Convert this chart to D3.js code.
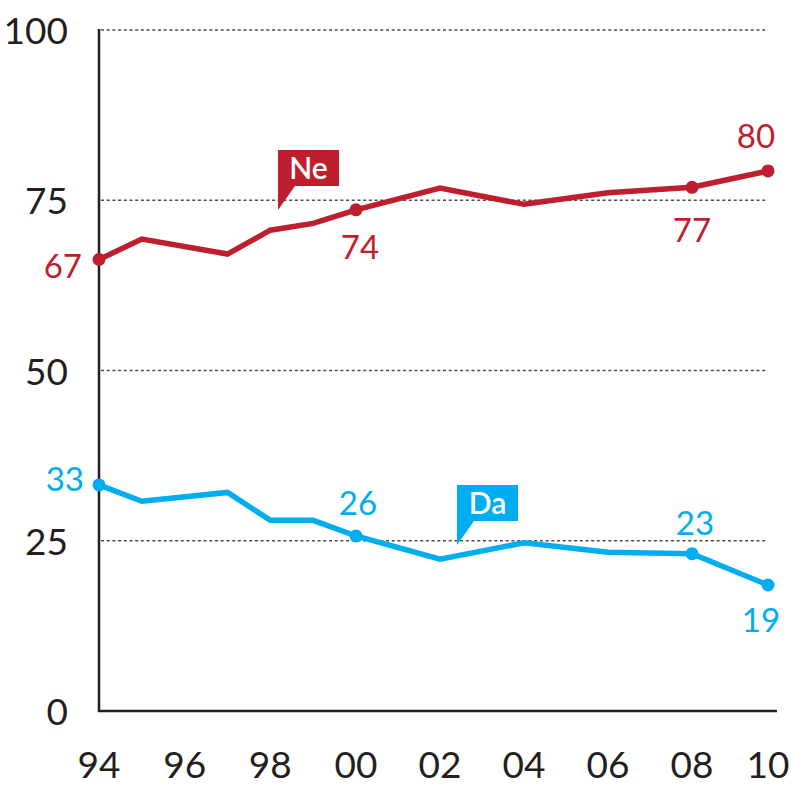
<!DOCTYPE html>
<html>
<head>
<meta charset="utf-8">
<script src="https://cdn.jsdelivr.net/npm/d3@7"></script>
<style>
  body { margin: 0; background: #fff; }
  svg { display: block; font-family: Lato, "Open Sans", sans-serif; }
</style>
</head>
<body>
<div id="graph"></div>
<script>
// survey years and the two answers (percent)
var years = [1994, 1995, 1997, 1998, 1999, 2000, 2002, 2004, 2006, 2008, 2010];
var neValues = [66.3, 69.3, 67.1, 70.6, 71.6, 73.6, 76.8, 74.4, 76.1, 76.9, 79.3];
var daValues = [33.2, 30.8, 32.1, 28.0, 28.0, 25.7, 22.3, 24.7, 23.3, 23.1, 18.5];
var xTicks = [1994, 1996, 1998, 2000, 2002, 2004, 2006, 2008, 2010];
var xTickLabels = ["94", "96", "98", "00", "02", "04", "06", "08", "10"];
var yTicks = [0, 25, 50, 75, 100];

// points that get a marker and a printed value
var neLabeled = [{year: 1994, text: "67"}, {year: 2000, text: "74"}, {year: 2008, text: "77"}, {year: 2010, text: "80"}];
var daLabeled = [{year: 1994, text: "33"}, {year: 2000, text: "26"}, {year: 2008, text: "23"}, {year: 2010, text: "19"}];

var red = "#be1e2d";
var blue = "#00aeef";
var width = 791, height = 787;

var svg = d3.select("#graph").append("svg")
    .attr("width", width)
    .attr("height", height);

// the original spacing of the years is not quite even
var x = d3.scaleLinear().domain([1994, 2000, 2008, 2010]).range([99, 356, 692, 768]);
var y = d3.scaleLinear().domain([0, 100]).range([711, 30]);

// dotted gridlines
svg.append("g")
    .selectAll("line")
    .data(yTicks.filter(function(d) { return d > 0; }))
    .enter().append("line")
    .attr("x1", x(1994) + 2)
    .attr("x2", x(2010))
    .attr("y1", function(d) { return y(d); })
    .attr("y2", function(d) { return y(d); })
    .attr("stroke", "#4d4d4d")
    .attr("stroke-width", 1.3)
    .attr("stroke-dasharray", "3,2.7");

// axes lines
svg.append("line")
    .attr("x1", x(1994)).attr("x2", x(1994))
    .attr("y1", y(100) - 1).attr("y2", y(0) + 1)
    .attr("stroke", "#231f20").attr("stroke-width", 2.5);
svg.append("line")
    .attr("x1", x(1994) - 1).attr("x2", 777)
    .attr("y1", y(0)).attr("y2", y(0))
    .attr("stroke", "#231f20").attr("stroke-width", 2.5);

// y tick labels
svg.append("g")
    .selectAll("text")
    .data(yTicks)
    .enter().append("text")
    .attr("x", 68)
    .attr("y", function(d) { return y(d) + 14; })
    .attr("text-anchor", "end")
    .attr("font-size", 37)
    .attr("fill", "#231f20")
    .text(function(d) { return d; });

// x tick labels
svg.append("g")
    .selectAll("text")
    .data(xTicks)
    .enter().append("text")
    .attr("x", function(d) { return x(d); })
    .attr("y", 778)
    .attr("text-anchor", "middle")
    .attr("font-size", 37)
    .attr("fill", "#231f20")
    .text(function(d, i) { return xTickLabels[i]; });

var line = d3.line()
    .x(function(d) { return x(d[0]); })
    .y(function(d) { return y(d[1]); });

function drawSeries(values, labeled, color) {
    var pts = years.map(function(yr, i) { return [yr, values[i]]; });
    svg.append("path")
        .datum(pts)
        .attr("d", line)
        .attr("fill", "none")
        .attr("stroke", color)
        .attr("stroke-width", 5.5)
        .attr("stroke-linejoin", "miter");
    svg.append("g")
        .selectAll("circle")
        .data(labeled)
        .enter().append("circle")
        .attr("cx", function(d) { return x(d.year); })
        .attr("cy", function(d) { return y(values[years.indexOf(d.year)]); })
        .attr("r", 6.5)
        .attr("fill", color);
}

drawSeries(neValues, neLabeled, red);
drawSeries(daValues, daLabeled, blue);

// value labels, placed by hand around the markers
var neOffsets = {1994: [-17, 19, "end"], 2000: [4, 49, "middle"], 2008: [0, 55, "middle"], 2010: [-12, -23, "middle"]};
var daOffsets = {1994: [-15, 6, "end"], 2000: [2, -21, "middle"], 2008: [3, -19, "middle"], 2010: [-7, 47, "middle"]};

function drawValueLabels(values, labeled, offsets, color) {
    svg.append("g")
        .selectAll("text")
        .data(labeled)
        .enter().append("text")
        .attr("x", function(d) { return x(d.year) + offsets[d.year][0]; })
        .attr("y", function(d) { return y(values[years.indexOf(d.year)]) + offsets[d.year][1]; })
        .attr("text-anchor", function(d) { return offsets[d.year][2]; })
        .attr("font-size", 33)
        .attr("fill", color)
        .text(function(d) { return d.text; });
}

drawValueLabels(neValues, neLabeled, neOffsets, red);
drawValueLabels(daValues, daLabeled, daOffsets, blue);

// speech-bubble series tags
function tag(name, bx, by, color) {
    var w = 61, h = 36;
    var g = svg.append("g").attr("transform", "translate(" + bx + "," + by + ")");
    g.append("path")
        .attr("d", "M0,0 H" + w + " V" + h + " H17 L0," + (h + 24) + " Z")
        .attr("fill", color);
    g.append("text")
        .attr("x", w / 2)
        .attr("y", 29)
        .attr("text-anchor", "middle")
        .attr("font-size", 30)
        .attr("font-weight", 600)
        .attr("fill", "#fff")
        .text(name);
}

tag("Ne", 278, 150, red);
tag("Da", 457, 485, blue);
</script>
</body>
</html>
